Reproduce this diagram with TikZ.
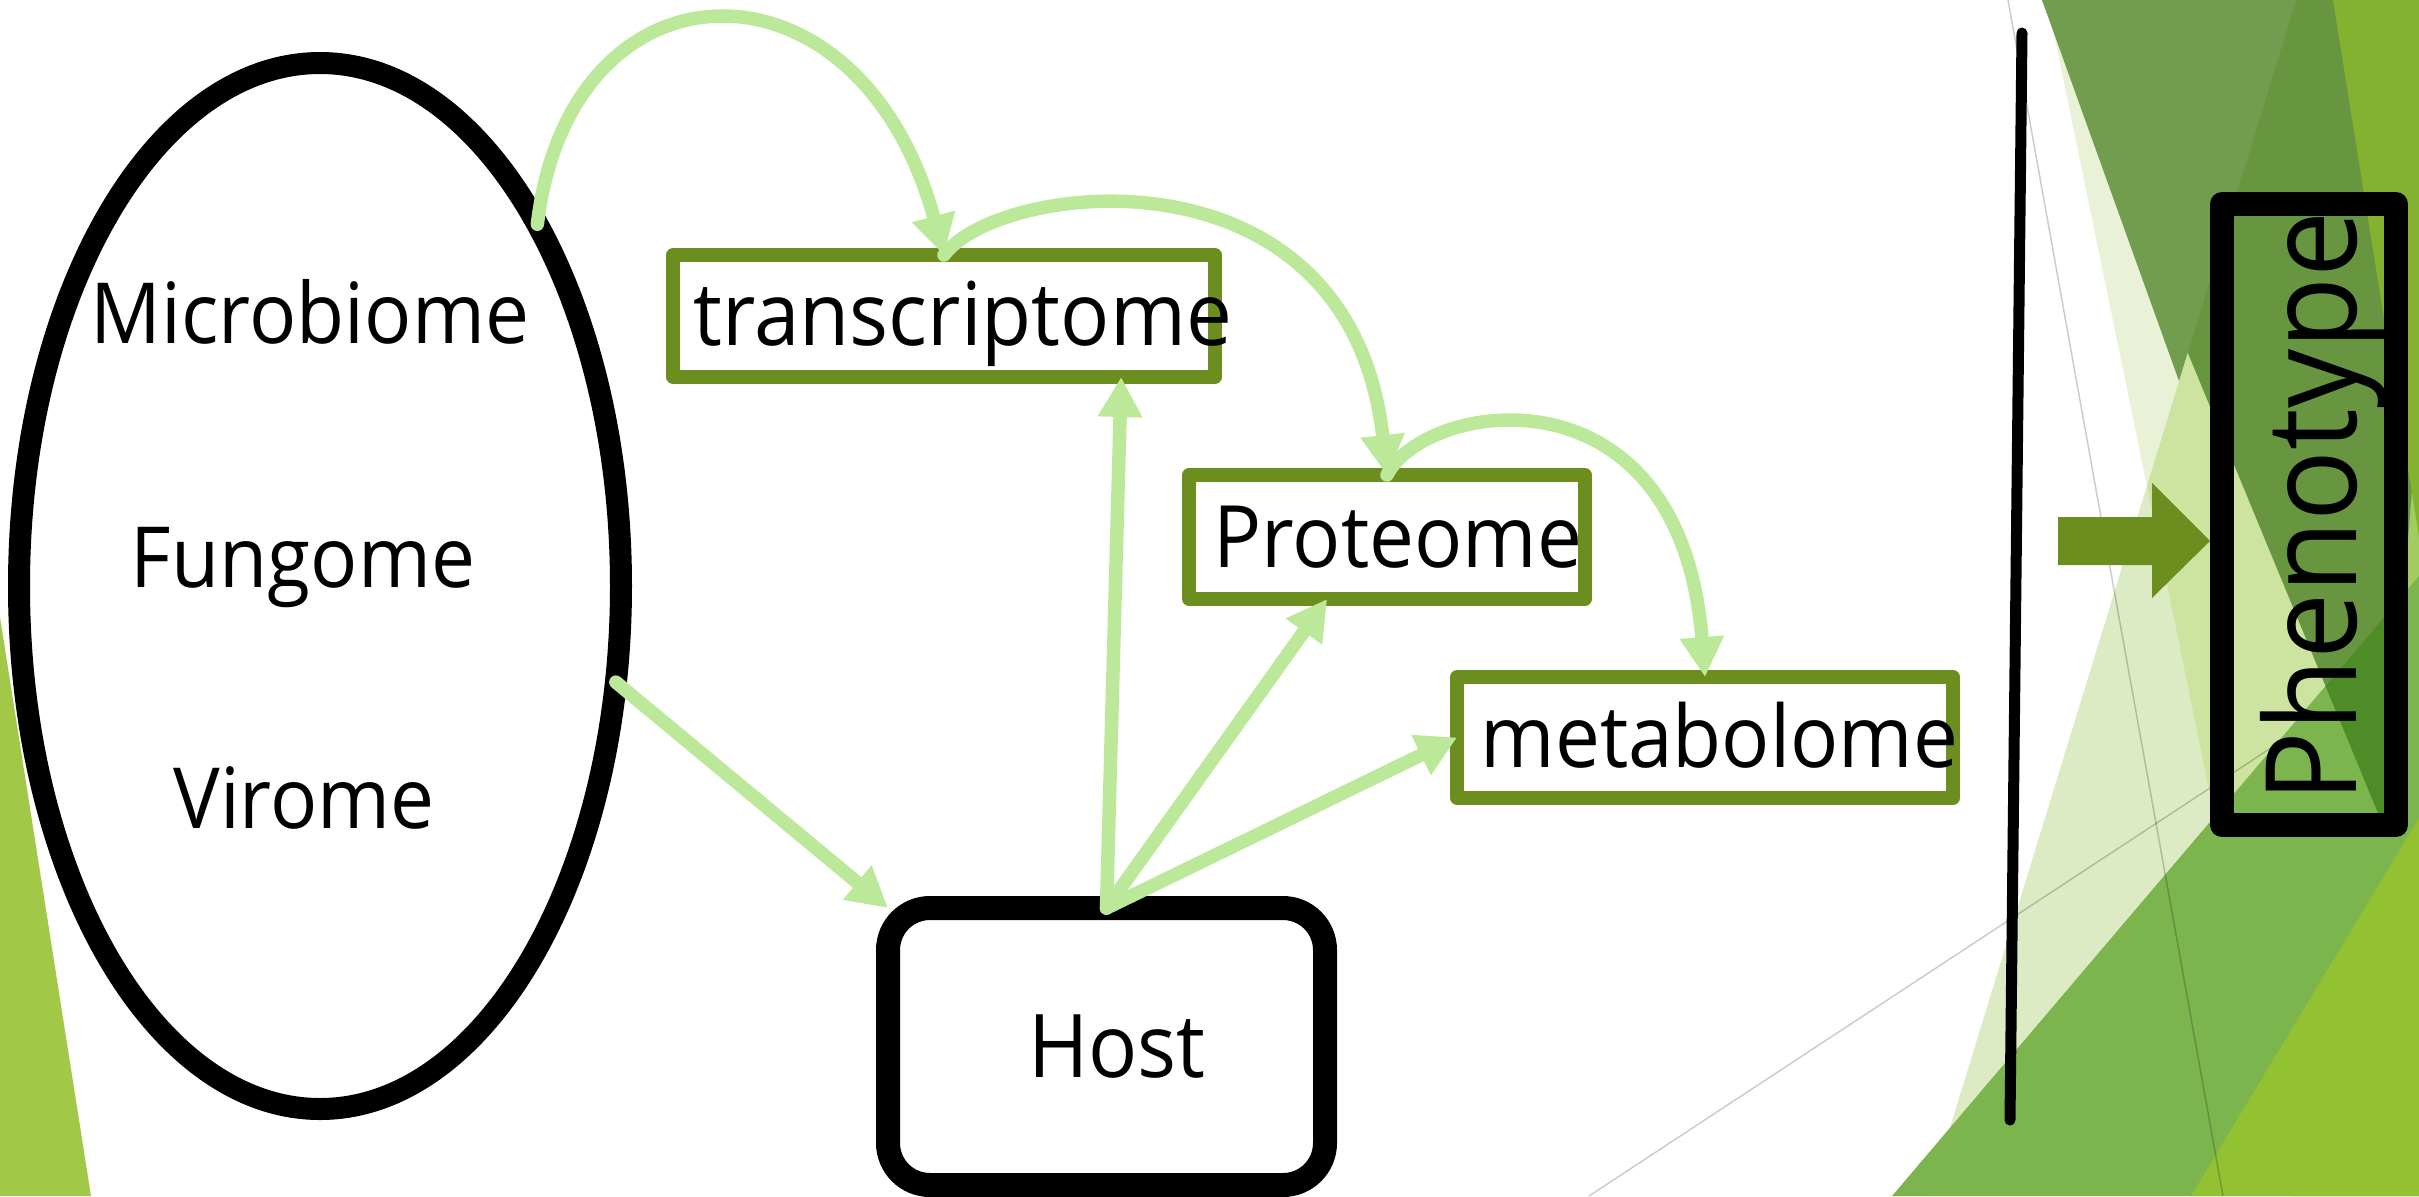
\documentclass[tikz,border=0pt]{standalone}
\usepackage{fontspec}
\setmainfont{Open Sans}[FakeStretch=0.93]
\usetikzlibrary{shapes.geometric, arrows.meta}

\definecolor{boxgreen}{RGB}{107,142,30}
\definecolor{linkgreen}{RGB}{187,233,153}
\definecolor{paleA}{RGB}{220,235,195}
\definecolor{paleB}{RGB}{233,242,215}
\definecolor{paleC}{RGB}{205,228,160}
\definecolor{darkA}{RGB}{104,150,64}
\definecolor{darkB}{RGB}{114,157,79}
\definecolor{brightB}{RGB}{131,178,49}
\definecolor{lightL}{RGB}{160,204,96}
\definecolor{midM}{RGB}{124,181,77}
\definecolor{deepD}{RGB}{77,140,38}
\definecolor{limeY}{RGB}{146,193,50}
\definecolor{limeL}{RGB}{161,201,71}

\begin{document}
\begin{tikzpicture}[
    x=0.1mm, y=-0.1mm,
    omebox/.style={rectangle, draw=boxgreen, line width=1.35mm, fill=white, line join=round, inner sep=0pt, outer sep=0pt},
    omelabel/.style={font=\fontsize{24.5}{29}\selectfont, inner sep=0pt, anchor=base west},
    biome/.style={font=\fontsize{24}{29}\selectfont, inner sep=0pt, anchor=base},
    link/.style={draw=linkgreen, line width=1.35mm, line cap=round, -{Triangle[length=4mm, width=4.2mm]}},
    thinline/.style={draw=black, opacity=0.2, line width=0.15mm}
]
\useasboundingbox (0,0) rectangle (2419,1196);

% ==================== BACKGROUND FACETS ====================
\begin{scope}
    \clip (0,0) rectangle (2419,1196);
    \fill[paleA] (2296,0) -- (1929,1196) -- (2419,1196) -- (2419,0) -- cycle;
    \fill[paleB] (2047,0) -- (2296,0) -- (2147,486) -- cycle;
    \fill[paleC] (2296,0) -- (2147,486) -- (2292,1196) -- (2419,1196) -- (2419,0) -- cycle;
    \fill[lightL] (2400,400) -- (2419,290) -- (2419,818) -- (2380,860) -- cycle;
    \fill[darkA] (2042,0) -- (2419,0) -- (2419,400) -- (2385,830) -- cycle;
    \fill[darkB] (2042,0) -- (2296,0) -- (2179,381) -- cycle;
    \fill[brightB] (2333,0) -- (2419,0) -- (2419,537) -- cycle;
    \draw[thinline] (1589,1196) -- (2280,742);
    \fill[midM] (1892,1196) -- (2419,576) -- (2419,1196) -- cycle;
    \begin{scope}
        \clip (1892,1196) -- (2419,576) -- (2419,1196) -- cycle;
        \fill[deepD] (2042,0) -- (2419,0) -- (2419,400) -- (2385,830) -- cycle;
    \end{scope}
    \fill[limeY] (2191,1196) -- (2419,818) -- (2419,1196) -- cycle;
    \draw[thinline] (2008,0) -- (2223,1196);
    \fill[limeL] (0,617) -- (91,1196) -- (0,1196) -- cycle;
\end{scope}

% Divider
\draw[line width=1.1mm, line cap=round] (2022,33) -- (2010,1120);

% ==================== NODES ====================
\node[ellipse, draw, line width=2.2mm, fill=white, minimum width=60.2mm, minimum height=104.6mm, inner sep=0pt, outer sep=0pt] (micro) at (320,586) {};
\node[biome] at (310,343) {Microbiome};
\node[biome] at (303,587) {Fungome};
\node[biome] at (304,828) {Virome};

\node[omebox, minimum width=54.2mm, minimum height=12.2mm] (tx) at (944,316) {};
\node[omebox, minimum width=39.6mm, minimum height=12.4mm] (pr) at (1387,537) {};
\node[omebox, minimum width=49.6mm, minimum height=12.1mm] (mb) at (1705,737.5) {};
\node[omelabel, font=\fontsize{25}{30}\selectfont] at (693,345) {transcriptome};
\node[omelabel] at (1213,567) {Proteome};
\node[omelabel] at (1480,767) {metabolome};

\node[rectangle, draw, line width=2.4mm, rounded corners=4.2mm, fill=white, minimum width=43.7mm, minimum height=27.7mm, inner sep=0pt, outer sep=0pt] (host) at (1106.5,1046.5) {};
\node[font=\fontsize{25}{30}\selectfont, inner sep=0pt, anchor=base] at (1117,1077) {Host};

% Phenotype
\coordinate (phtip) at (2210,541);
\fill[boxgreen] (2058,517) -- (2152,517) -- (2152,483) -- (phtip) -- (2152,598) -- (2152,565) -- (2058,565) -- cycle;
\node[rectangle, draw, line width=2.4mm, line join=round, minimum width=17.4mm, minimum height=62.1mm, inner sep=0pt, outer sep=0pt] (pheno) at (2309,514.5) {};
\node[font=\fontsize{36}{43}\selectfont, inner sep=0pt, rotate=90, anchor=base] at (2356,507) {Phenotype};

% ==================== CONNECTORS ====================
\draw[link] (micro.59.8) .. controls (570,-50) and (860,-55) .. (tx.north);
\draw[link] (tx.north) .. controls (1000,180) and (1350,140) .. (pr.north);
\draw[link] (pr.north) .. controls (1425,400) and (1680,360) .. (mb.north);
\draw[link] (micro.-18.7) -- (host.north west);
\draw[link] (host.north) -- (tx.-19.4);
\draw[link] (host.north) -- (pr.-134);
\draw[link] (host.north) -- (mb.west);

\end{tikzpicture}
\end{document}
